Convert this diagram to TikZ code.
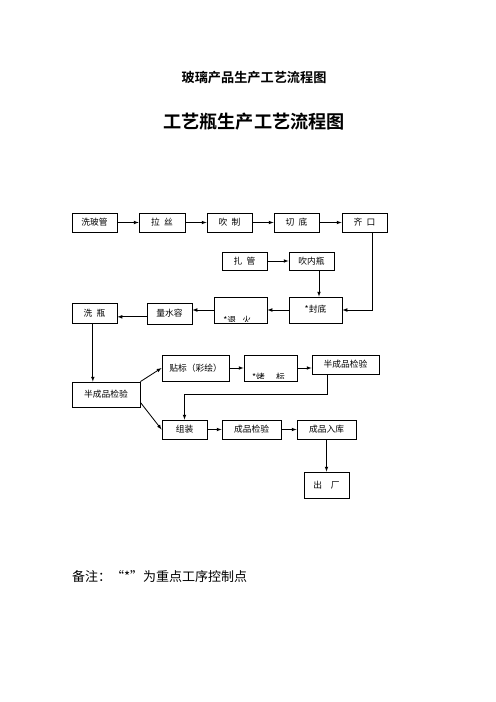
\documentclass[tikz,border=0pt]{standalone}
\usepackage{fontspec}
\setmainfont{Noto Sans CJK SC}[BoldFont=Noto Sans CJK SC Bold]
\usetikzlibrary{arrows}
\usetikzlibrary{positioning}

\newcommand{\boxfont}{\fontsize{10.5}{12}\selectfont}

\begin{document}
\begin{tikzpicture}[x=1.2pt, y=-1.2pt,
    box/.style={draw, line width=1pt, inner sep=0pt, font=\boxfont},
    flow/.style={->, >=latex, line width=1pt}]
        \useasboundingbox (0,0) rectangle (496,702);

        % titles
        \node[font=\fontsize{15.8}{18}\selectfont\bfseries] (t1) at (254,78) {玻璃产品生产工艺流程图};
        \node[font=\fontsize{21.8}{24}\selectfont\bfseries] (t2) at (254,122) {工艺瓶生产工艺流程图};

        % first row
        \node[box, minimum width=54pt, minimum height=22.8pt] (xbg) at (94.5,222.5) {洗玻管};
        \node[box, minimum width=55pt, minimum height=22.8pt] (ls) at (162,222.5) {拉\enspace 丝};
        \node[box, minimum width=54pt, minimum height=22.8pt] (cz) at (229.5,222.5) {吹\enspace 制};
        \node[box, minimum width=54pt, minimum height=22.8pt] (qd) at (296.5,222.5) {切\enspace 底};
        \node[box, minimum width=54pt, minimum height=22.8pt] (qk) at (364.5,222.5) {齐\enspace 口};

        \node[box, minimum width=54pt, minimum height=21.6pt] (zg) at (244.5,261) {扎\enspace 管};
        \node[box, minimum width=54pt, minimum height=21.6pt] (cnp) at (311.5,261) {吹内瓶};

        % back row
        \node[box, minimum width=63.6pt, minimum height=31.2pt] (fd) at (315.5,310) {\raisebox{3pt}{*封底}};
        \node[box, minimum width=63.6pt, minimum height=31.2pt] (th) at (240.5,310) {};
        \node[box, minimum width=54pt, minimum height=25.2pt] (lsr) at (169.5,313.5) {量水容};
        \node[box, minimum width=54pt, minimum height=24pt] (xp) at (94.5,313) {洗\enspace 瓶};

        % checks
        \node[box, minimum width=81.6pt, minimum height=30pt] (bj1) at (106,394.5) {半成品检验};
        \node[box, minimum width=80.4pt, minimum height=31.2pt] (tb) at (195.5,368) {贴标（彩绘）};
        \node[box, minimum width=63.6pt, minimum height=31.2pt] (kb) at (270.5,368) {};
        \node[box, minimum width=80.4pt, minimum height=22.8pt] (bj2) at (345.5,364.5) {半成品检验};

        \node[box, minimum width=54pt, minimum height=22.8pt] (zz) at (184.5,429.5) {组装};
        \node[box, minimum width=70.8pt, minimum height=22.8pt] (cj) at (251.5,429.5) {成品检验};
        \node[box, minimum width=70.8pt, minimum height=22.8pt] (crk) at (326.5,429.5) {成品入库};
        \node[box, minimum width=54pt, minimum height=31.2pt] (cc) at (326.5,485) {出\quad 厂};

        % cut-off labels
        \begin{scope}
            \clip ([yshift=2.6pt]th.south west) rectangle (th.north east);
            \node[font=\boxfont] (thtxt) at ([xshift=-4pt, yshift=4pt]th.south) {*退\hspace{.7em}火};
        \end{scope}
        \begin{scope}
            \clip ([yshift=3.8pt]kb.south west) rectangle (kb.north east);
            \node[font=\boxfont] (kbtxt) at ([xshift=-2.4pt, yshift=4.6pt]kb.south) {*烤\hspace{1.3em}标};
        \end{scope}

        % note
        \node[anchor=west, inner sep=0pt, font=\fontsize{15.6}{18}\selectfont] (bz) at (72,577) {备注：“*”为重点工序控制点};

        \draw[flow] (xbg) -- (ls);
        \draw[flow] (ls) -- (cz);
        \draw[flow] (cz) -- (qd);
        \draw[flow] (qd) -- (qk);
        \draw[flow] ([xshift=9pt]qk.south) |- (fd.east);
        \draw[flow] (zg) -- (cnp);
        \draw[flow] ([xshift=9pt]cnp.south) -- ([xshift=9pt]cnp.south |- fd.north);
        \draw[flow] (fd) -- (th);
        \draw[flow] (th.west) -- (th.west -| lsr.east);
        \draw[flow] ([yshift=-4pt]lsr.west) -- ([yshift=-4pt]lsr.west -| xp.east);
        \draw[flow] ([xshift=-2pt]xp.south) -- ([xshift=-2pt]xp.south |- bj1.north);
        \draw[flow] (bj1.north east) -- (tb.west);
        \draw[flow] ([yshift=6pt]bj1.south east) -- (zz.west);
        \draw[flow] (tb) -- (kb);
        \draw[flow] (kb.east) -- (kb.east -| bj2.west);
        \draw[flow] ([xshift=-22pt]bj2.south) -- ++(0,20) -| (zz.north);
        \draw[flow] (zz) -- (cj);
        \draw[flow] (cj) -- (crk);
        \draw[flow] (crk) -- (cc);
\end{tikzpicture}
\end{document}
